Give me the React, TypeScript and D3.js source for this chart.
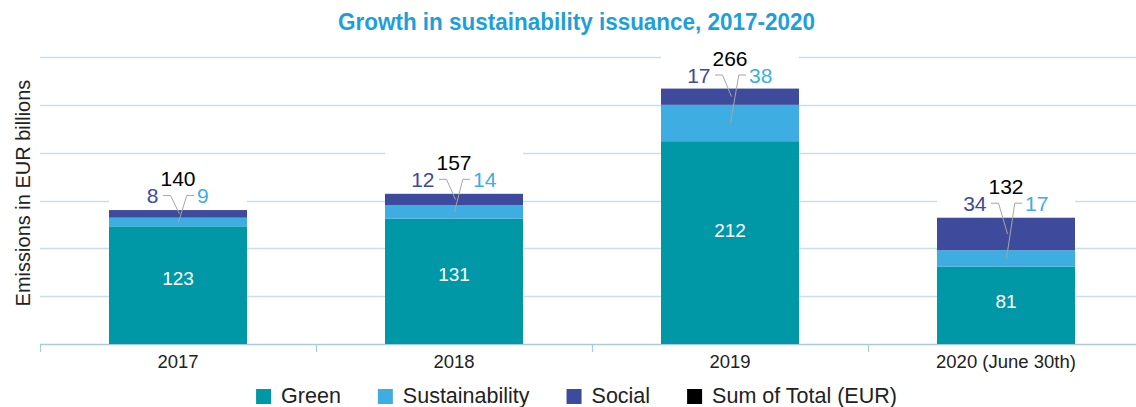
import React, { useEffect, useRef } from "react";
import * as d3 from "d3";

const categories = ["2017", "2018", "2019", "2020 (June 30th)"];
const green = [123, 131, 212, 81];
const sustainability = [9, 14, 38, 17];
const social = [8, 12, 17, 34];
const totals = [140, 157, 266, 132];
const yTicks = [50, 100, 150, 200, 250, 300];
const legendLabels = ["Green", "Sustainability", "Social", "Sum of Total (EUR)"];

const C_GREEN = "#0097a7";
const C_SUST = "#3eade2";
const C_SOCIAL = "#3e4a9b";
const C_TOTAL = "#000000";
const legendColors = [C_GREEN, C_SUST, C_SOCIAL, C_TOTAL];

const W = 1136;
const H = 407;
const FONT = "'Liberation Sans', Arial, Helvetica, sans-serif";

export default function App() {
  const ref = useRef<SVGSVGElement | null>(null);

  useEffect(() => {
    const svg = d3.select(ref.current);
    svg.selectAll("*").remove();

    const x = d3
      .scaleBand<string>()
      .domain(categories)
      .range([40, 1144])
      .paddingInner(0.5)
      .paddingOuter(0.25);
    const y = d3.scaleLinear().domain([0, 300]).range([344, 57]);
    const step = x.step();

    // title
    svg
      .append("text")
      .attr("x", 576.5)
      .attr("y", 30)
      .attr("text-anchor", "middle")
      .attr("font-family", FONT)
      .attr("font-weight", "bold")
      .attr("font-size", 24)
      .attr("textLength", 477)
      .attr("lengthAdjust", "spacingAndGlyphs")
      .attr("fill", "#1e9fda")
      .text("Growth in sustainability issuance, 2017-2020");

    // y-axis label
    svg
      .append("text")
      .attr("transform", "translate(30,193) rotate(-90)")
      .attr("text-anchor", "middle")
      .attr("font-family", FONT)
      .attr("font-size", 20)
      .attr("fill", "#222")
      .text("Emissions in EUR billions");

    // gridlines
    svg
      .append("g")
      .selectAll("line")
      .data(yTicks)
      .join("line")
      .attr("x1", 40)
      .attr("x2", W)
      .attr("y1", (d) => Math.round(y(d)) + 0.5)
      .attr("y2", (d) => Math.round(y(d)) + 0.5)
      .attr("stroke", "#c8ddf2")
      .attr("stroke-width", 1.5);

    // white boxes behind labels
    svg
      .append("g")
      .selectAll("rect")
      .data(categories)
      .join("rect")
      .attr("x", (d) => x(d)!)
      .attr("width", x.bandwidth())
      .attr("y", (_d, i) => y(totals[i]) - 45)
      .attr("height", 45)
      .attr("fill", "#fff");

    // axis
    svg
      .append("line")
      .attr("x1", 40)
      .attr("x2", W)
      .attr("y1", 344.5)
      .attr("y2", 344.5)
      .attr("stroke", "#a9c9e9")
      .attr("stroke-width", 1.5);
    const boundaries = categories.map((c) => x(c)! - (step - x.bandwidth()) / 2);
    svg
      .append("g")
      .selectAll("line")
      .data(boundaries)
      .join("line")
      .attr("x1", (d) => Math.round(d) + 0.5)
      .attr("x2", (d) => Math.round(d) + 0.5)
      .attr("y1", 344)
      .attr("y2", 352)
      .attr("stroke", "#a9c9e9")
      .attr("stroke-width", 1.2);

    svg
      .append("g")
      .selectAll("text")
      .data(categories)
      .join("text")
      .attr("x", (d) => x(d)! + x.bandwidth() / 2)
      .attr("y", 368)
      .attr("text-anchor", "middle")
      .attr("font-family", FONT)
      .attr("font-size", 18.5)
      .attr("fill", "#222")
      .text((d) => d);

    // stacked bars
    const series = [
      { vals: green, color: C_GREEN, base: categories.map(() => 0) },
      { vals: sustainability, color: C_SUST, base: green },
      { vals: social, color: C_SOCIAL, base: green.map((g, i) => g + sustainability[i]) },
    ];
    series.forEach((s) => {
      svg
        .append("g")
        .selectAll("rect")
        .data(categories)
        .join("rect")
        .attr("x", (d) => x(d)!)
        .attr("width", x.bandwidth())
        .attr("y", (_d, i) => y(s.base[i] + s.vals[i]))
        .attr("height", (_d, i) => y(s.base[i]) - y(s.base[i] + s.vals[i]))
        .attr("fill", s.color);
    });

    // green labels
    svg
      .append("g")
      .selectAll("text")
      .data(categories)
      .join("text")
      .attr("x", (d) => x(d)! + x.bandwidth() / 2)
      .attr("y", (_d, i) => y(green[i] * 0.56) + 7)
      .attr("text-anchor", "middle")
      .attr("font-family", FONT)
      .attr("font-size", 19)
      .attr("fill", "#fff")
      .text((_d, i) => String(green[i]));

    // labels above bars with leaders
    categories.forEach((c, i) => {
      const cx = x(c)! + x.bandwidth() / 2;
      const top = y(totals[i]);
      const sideBase = top - 7;
      const ly = sideBase - 7.5;
      const socialMid = (y(green[i] + sustainability[i]) + y(green[i] + sustainability[i] + social[i])) / 2;
      const sustMid = (y(green[i]) + y(green[i] + sustainability[i])) / 2;
      const g = svg.append("g");
      g.append("path")
        .attr("d", `M${cx - 15},${ly} L${cx - 7.5},${ly} L${cx + 1.5},${socialMid}`)
        .attr("fill", "none")
        .attr("stroke", "#a6a6a6")
        .attr("stroke-width", 1);
      g.append("path")
        .attr("d", `M${cx + 16},${ly} L${cx + 8.8},${ly} L${cx + 0.5},${sustMid}`)
        .attr("fill", "none")
        .attr("stroke", "#a6a6a6")
        .attr("stroke-width", 1);
      g.append("text")
        .attr("x", cx - 19.5)
        .attr("y", sideBase)
        .attr("text-anchor", "end")
        .attr("font-family", FONT)
        .attr("font-size", 21)
        .attr("fill", C_SOCIAL)
        .text(String(social[i]));
      g.append("text")
        .attr("x", cx + 19)
        .attr("y", sideBase)
        .attr("text-anchor", "start")
        .attr("font-family", FONT)
        .attr("font-size", 21)
        .attr("fill", C_SUST)
        .text(String(sustainability[i]));
      g.append("text")
        .attr("x", cx)
        .attr("y", top - 24)
        .attr("text-anchor", "middle")
        .attr("font-family", FONT)
        .attr("font-size", 21)
        .attr("fill", C_TOTAL)
        .text(String(totals[i]));
    });

    // legend
    const lg = svg.append("g");
    const items = legendLabels.map((lab, i) => {
      const it = lg.append("g");
      it.append("rect")
        .attr("x", 0)
        .attr("y", 389)
        .attr("width", 15)
        .attr("height", 15)
        .attr("fill", legendColors[i]);
      const t = it
        .append("text")
        .attr("x", 25)
        .attr("y", 402.5)
        .attr("font-family", FONT)
        .attr("font-size", 21.5)
        .attr("fill", "#222")
        .text(lab);
      const w = (t.node() as SVGTextElement).getComputedTextLength();
      return { it, w: 25 + w };
    });
    const gap = 37;
    const total = items.reduce((a, b) => a + b.w, 0) + gap * (items.length - 1);
    let cur = 576.5 - total / 2;
    items.forEach((o) => {
      o.it.attr("transform", `translate(${cur},0)`);
      cur += o.w + gap;
    });
  }, []);

  return (
    <svg
      ref={ref}
      width={W}
      height={H}
      style={{ position: "absolute", left: 0, top: 0, background: "#fff" }}
    />
  );
}
